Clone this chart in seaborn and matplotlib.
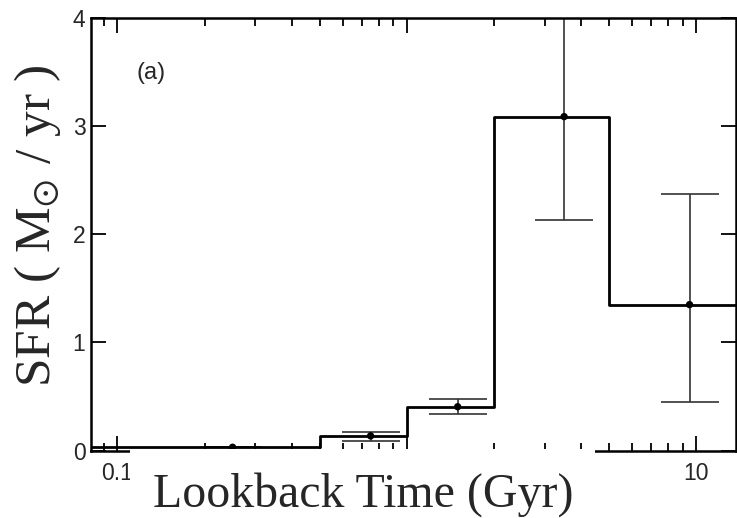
import numpy as np
import pandas as pd
import matplotlib
matplotlib.use("Agg")
import matplotlib.pyplot as plt
from matplotlib.patches import Rectangle
from matplotlib.ticker import FixedLocator, FixedFormatter, LogLocator, NullFormatter
import seaborn as sns

# Star-formation history: bin edges in lookback time (Gyr) and SFR per bin
bin_edges = [0.05, 0.5, 1.0, 2.0, 5.0, 14.0]
bin_sfr = [0.03, 0.135, 0.405, 3.09, 1.35]

# Measured points with asymmetric uncertainties
point_time = [0.25, 0.75, 1.5, 3.5, 9.5]
point_sfr = [0.03, 0.135, 0.405, 3.09, 1.35]
err_low = [0.0, 0.045, 0.068, 0.956, 0.905]
err_high = [0.0, 0.035, 0.068, 0.956, 1.025]

x_ticks = [0.1, 1, 10]
x_tick_labels = ["0.1", "", "10"]   # the "1" label sits under the title panel
y_ticks = [0, 1, 2, 3, 4]

sns.set_style("ticks")
plt.rcParams["font.family"] = ["Liberation Sans", "DejaVu Sans"]
plt.rcParams["mathtext.fontset"] = "stix"

W, H = 737, 518
fig = plt.figure(figsize=(W / 100, H / 100), dpi=100)
ax = fig.add_axes([91 / W, 1 - 450.5 / H, (736 - 91) / W, (450.5 - 18.3) / H])
ax.set_xscale("log")

steps = pd.DataFrame({"t": bin_edges, "sfr": bin_sfr + [bin_sfr[-1]]})
sns.lineplot(data=steps, x="t", y="sfr", drawstyle="steps-post", estimator=None,
             sort=False, color="black", linewidth=2.0, ax=ax, zorder=3)

ax.errorbar(point_time, point_sfr, yerr=[err_low, err_high], fmt="none",
            ecolor="#333333", elinewidth=1.2, capsize=21, capthick=1.2, zorder=2)
pts = pd.DataFrame({"t": point_time, "sfr": point_sfr})
sns.scatterplot(data=pts, x="t", y="sfr", color="black", s=28, edgecolor="none",
                ax=ax, zorder=4)

ax.set_xlim(0.081, 13.75)
ax.set_ylim(0, 4)
ax.xaxis.set_major_locator(FixedLocator(x_ticks))
ax.xaxis.set_major_formatter(FixedFormatter(x_tick_labels))
ax.xaxis.set_minor_locator(LogLocator(base=10, subs=np.arange(2, 10)))
ax.xaxis.set_minor_formatter(NullFormatter())
ax.set_yticks(y_ticks)
ax.set_yticklabels([str(v) for v in y_ticks])

ax.tick_params(which="both", direction="in", top=True, right=True, width=1.3, color="black")
ax.tick_params(which="major", length=10.5, labelsize=16.5)
ax.tick_params(which="minor", length=5.5)
ax.tick_params(axis="x", which="major", pad=8)
ax.tick_params(axis="y", which="major", pad=4)
for sp in ax.spines.values():
    sp.set_linewidth(1.8)
    sp.set_color("black")
ax.set_xlabel("")
ax.set_ylabel("")

ax.text((137 - 91) / (736 - 91), (450.5 - 73) / (450.5 - 18.3), "(a)",
        transform=ax.transAxes, fontsize=17, ha="left", va="center")

# white panel carrying the x-axis title
fig.add_artist(Rectangle((130 / W, 0), (595 - 130) / W, (518 - 448.5) / H,
                         transform=fig.transFigure, facecolor="white",
                         edgecolor="none", zorder=5))
fig.text(363.5 / W, 1 - 507 / H, "Lookback Time (Gyr)", family="Liberation Serif",
         fontsize=34.5, ha="center", va="baseline", zorder=6)
fig.text(50 / W, 1 - 225.5 / H, r"SFR ( M$_{\odot}$ / yr )", family="Liberation Serif",
         fontsize=37, rotation=90, rotation_mode="anchor", ha="center", va="baseline",
         zorder=6)

fig.savefig("out.png", dpi=100)
